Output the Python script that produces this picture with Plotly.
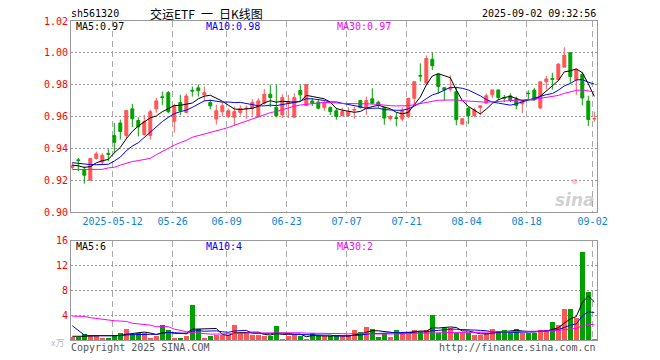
import math
import pandas as pd
import plotly.graph_objects as go

# ---------------- data ----------------
holidays = ["2025-05-01", "2025-05-02", "2025-05-05", "2025-06-02"]
dates = [d.strftime("%Y-%m-%d") for d in pd.bdate_range("2025-04-28", "2025-09-02")
         if d.strftime("%Y-%m-%d") not in holidays]

open_ = [0.928, 0.9328, 0.9267, 0.920, 0.9336, 0.9313, 0.9368, 0.948, 0.9559, 0.9481,
         0.9648, 0.9575, 0.9486, 0.948, 0.9648, 0.9724, 0.975, 0.957, 0.9688, 0.9625,
         0.9765, 0.978, 0.9736, 0.9688, 0.9584, 0.963, 0.960, 0.9596, 0.9625, 0.9648,
         0.9652, 0.960, 0.9684, 0.974, 0.9656, 0.961, 0.9686, 0.9596, 0.9763, 0.9669,
         0.9698, 0.969, 0.9656, 0.9656, 0.9636, 0.9606, 0.9606, 0.9640, 0.970, 0.9652,
         0.9711, 0.969, 0.9656, 0.9586, 0.9592, 0.9584, 0.960, 0.9715, 0.9858, 0.9809,
         0.996, 0.9865, 0.9781, 0.9772, 0.9756, 0.9552, 0.9652, 0.9606, 0.9656, 0.9684,
         0.9736, 0.9767, 0.9719, 0.973, 0.971, 0.968, 0.9747, 0.9766, 0.9654, 0.9818,
         0.9838, 0.9832, 0.991, 1.000, 0.9829, 0.9865, 0.9697, 0.9584]
high = [0.931, 0.934, 0.9287, 0.934, 0.938, 0.937, 0.9396, 0.956, 0.958, 0.9638,
        0.968, 0.9596, 0.9609, 0.9642, 0.9717, 0.9756, 0.976, 0.968, 0.9736, 0.9744,
        0.9788, 0.980, 0.9788, 0.9706, 0.9675, 0.969, 0.965, 0.9663, 0.967, 0.967,
        0.971, 0.9715, 0.9772, 0.980, 0.980, 0.974, 0.9736, 0.9745, 0.980, 0.980,
        0.9715, 0.971, 0.970, 0.9663, 0.9655, 0.9655, 0.9658, 0.966, 0.9705, 0.9725,
        0.9777, 0.970, 0.966, 0.961, 0.9623, 0.9656, 0.9715, 0.9819, 0.9934, 0.9984,
        1.0003, 0.987, 0.9785, 0.986, 0.9787, 0.9586, 0.966, 0.9655, 0.9667, 0.9745,
        0.9767, 0.9767, 0.9735, 0.9745, 0.9725, 0.970, 0.9765, 0.978, 0.9818, 0.9855,
        0.9875, 0.9935, 1.0035, 1.0005, 0.9896, 0.988, 0.973, 0.963]
low = [0.927, 0.9256, 0.9178, 0.9197, 0.933, 0.930, 0.9319, 0.937, 0.9455, 0.946,
       0.9534, 0.9475, 0.948, 0.9455, 0.9623, 0.9673, 0.962, 0.950, 0.961, 0.962,
       0.9725, 0.9725, 0.9695, 0.9645, 0.955, 0.960, 0.959, 0.954, 0.9605, 0.9585,
       0.9605, 0.9595, 0.9675, 0.966, 0.9596, 0.959, 0.959, 0.959, 0.970, 0.9665,
       0.9665, 0.9645, 0.9635, 0.961, 0.958, 0.960, 0.9605, 0.9586, 0.965, 0.961,
       0.9675, 0.9655, 0.9548, 0.9575, 0.9538, 0.957, 0.959, 0.9675, 0.9819, 0.9809,
       0.9892, 0.9743, 0.9698, 0.9756, 0.9545, 0.955, 0.9552, 0.9595, 0.961, 0.9677,
       0.9715, 0.9705, 0.969, 0.969, 0.9645, 0.962, 0.9707, 0.970, 0.9645, 0.977,
       0.977, 0.9825, 0.991, 0.981, 0.9735, 0.967, 0.954, 0.9567]
close = [0.929, 0.9323, 0.9231, 0.9336, 0.9365, 0.9356, 0.9363, 0.9438, 0.9506, 0.9638,
         0.9586, 0.9534, 0.9569, 0.963, 0.9698, 0.9719, 0.963, 0.9667, 0.9637, 0.9729,
         0.976, 0.9762, 0.975, 0.9667, 0.9636, 0.9667, 0.9636, 0.9631, 0.965, 0.9652,
         0.9688, 0.9698, 0.974, 0.9719, 0.9604, 0.9719, 0.969, 0.9719, 0.9736, 0.980,
         0.9684, 0.9652, 0.9684, 0.9631, 0.960, 0.9631, 0.9627, 0.9644, 0.9656, 0.970,
         0.9684, 0.9669, 0.959, 0.960, 0.9588, 0.9636, 0.9715, 0.9819, 0.9854, 0.9965,
         0.9919, 0.9788, 0.9767, 0.978, 0.958, 0.9586, 0.9606, 0.9642, 0.9667, 0.973,
         0.9767, 0.9719, 0.9715, 0.970, 0.967, 0.9697, 0.9744, 0.9709, 0.9818, 0.9836,
         0.9834, 0.9929, 0.9985, 0.9851, 0.9896, 0.9716, 0.9581, 0.9587]
volume = [0.5, 0.5, 1.0, 0.8, 0.8, 0.4, 0.4, 0.8, 1.2, 1.8,
          1.0, 1.2, 1.2, 0.4, 0.6, 2.4, 1.6, 0.4, 0.4, 0.7,
          5.6, 1.7, 0.4, 0.7, 0.85, 0.85, 0.85, 2.4, 1.1, 1.1,
          0.85, 0.85, 0.6, 0.6, 2.3, 0.2, 0.7, 0.85, 0.7, 0.2,
          1.1, 0.6, 0.6, 0.65, 0.65, 0.6, 0.6, 1.65, 1.3, 2.1,
          1.8, 0.55, 1.05, 0.55, 1.65, 1.3, 1.3, 1.65, 1.3, 1.6,
          4.0, 1.1, 1.9, 1.9, 1.2, 1.2, 1.1, 0.75, 0.75, 1.1,
          1.8, 1.5, 1.65, 1.1, 1.8, 1.2, 1.2, 1.2, 1.65, 1.65,
          2.9, 2.4, 5.0, 5.0, 3.6, 14.1, 7.8, 0.2]

# moving-average values at the start of the window
ma5_head = [0.9295, 0.929, 0.928, 0.9285]
ma10_head = [0.931, 0.9305, 0.930, 0.9298, 0.9297, 0.9298, 0.930, 0.932, 0.9345]
ma30_head = [0.9267, 0.9267, 0.9267, 0.9267, 0.9267, 0.9268, 0.9277, 0.9281, 0.9295, 0.9306,
             0.9317, 0.9323, 0.933, 0.9337, 0.936, 0.938, 0.9405, 0.942, 0.9436, 0.945,
             0.947, 0.948, 0.949, 0.950, 0.9506, 0.952, 0.9531, 0.9544, 0.9556]
vma5_head = [0.6, 0.55, 0.6, 0.65]
vma10_head = [2.3, 1.6, 0.8, 0.7, 0.7, 0.65, 0.65, 0.65, 0.7]
vma30_head = [3.85, 3.85, 3.8, 3.6, 3.45, 3.4, 3.2, 3.1, 3.05, 3.0,
              2.7, 2.6, 2.55, 2.4, 2.15, 2.2, 2.15, 1.75, 1.5, 1.35,
              1.2, 1.1, 0.95, 0.95, 0.95, 0.95, 0.95, 1.0, 1.05]

tick_dates = ["2025-05-12", "2025-05-26", "2025-06-09", "2025-06-23", "2025-07-07",
              "2025-07-21", "2025-08-04", "2025-08-18", "2025-09-02"]
tick_text = ["2025-05-12", "05-26", "06-09", "06-23", "07-07", "07-21", "08-04", "08-18", "09-02"]
price_ticks = [0.90, 0.92, 0.94, 0.96, 0.98, 1.00, 1.02]
vol_ticks = [4, 8, 12, 16]

# ---------------- derived ----------------
n = len(dates)
idx = list(range(n))


def ma(values, window, head):
    s = pd.Series(values, dtype=float).rolling(window).mean()
    s.iloc[:len(head)] = head
    return s.tolist()


ma5 = ma(close, 5, ma5_head)
ma10 = ma(close, 10, ma10_head)
ma30 = ma(close, 30, ma30_head)
vma5 = ma(volume, 5, vma5_head)
vma10 = ma(volume, 10, vma10_head)
vma30 = ma(volume, 30, vma30_head)

RED = "#ff5555"
GREEN = "#00a000"
FONT = "DejaVu Sans Mono"
bar_colors = [RED if c > o else GREEN for o, c in zip(open_, close)]

W, H = 660, 360
L, R, T, B = 71, 63, 21, 20
PW, PH = W - L - R, H - T - B


def px(x):
    return (x - L) / PW


def py(y):
    return (H - B - y) / PH


fig = go.Figure()
fig.add_trace(go.Candlestick(
    x=idx, open=open_, high=high, low=low, close=close,
    increasing=dict(line=dict(color=RED, width=1), fillcolor=RED),
    decreasing=dict(line=dict(color=GREEN, width=1), fillcolor=GREEN),
    whiskerwidth=0, xaxis="x", yaxis="y", showlegend=False, hoverinfo="skip"))
for vals, col in [(ma5, "#000000"), (ma10, "#0000ff"), (ma30, "#ff00ff")]:
    fig.add_trace(go.Scatter(x=idx, y=vals, mode="lines", line=dict(color=col, width=1),
                             xaxis="x", yaxis="y", showlegend=False, hoverinfo="skip"))

fig.add_trace(go.Bar(x=idx, y=volume, marker=dict(color=bar_colors, line=dict(width=0)),
                     width=0.78, xaxis="x2", yaxis="y2", showlegend=False, hoverinfo="skip"))
for vals, col in [(vma5, "#000000"), (vma10, "#0000ff"), (vma30, "#ff00ff")]:
    fig.add_trace(go.Scatter(x=idx, y=vals, mode="lines", line=dict(color=col, width=1),
                             xaxis="x2", yaxis="y2", showlegend=False, hoverinfo="skip"))

xr = [(L - 72.3) / 6, (W - R - 72.3) / 6]
tickvals = [dates.index(d) - 0.28 for d in tick_dates]
common_x = dict(range=xr, tickmode="array", tickvals=tickvals, showgrid=True,
                gridcolor="#aaaaaa", griddash="6px,4px", gridwidth=1, zeroline=False,
                showline=True, linecolor="#999999", linewidth=1, mirror=True, ticks="",
                fixedrange=True)
common_y = dict(showgrid=True, gridcolor="#999999", griddash="2px,2px", gridwidth=1,
                zeroline=False, showline=True, linecolor="#999999", linewidth=1,
                mirror=True, ticks="", fixedrange=True,
                tickfont=dict(family=FONT, size=10, color="#ff0000"))

main_bottom = py(212)
vol_top = py(240.7)

fig.update_layout(
    width=W, height=H, margin=dict(l=L, r=R, t=T, b=B),
    paper_bgcolor="white", plot_bgcolor="white",
    font=dict(family=FONT, size=10, color="#000000"),
    xaxis=dict(**common_x, domain=[0, 1], anchor="y", ticktext=tick_text,
               tickfont=dict(family=FONT, size=10, color="#0a84d6"),
               rangeslider=dict(visible=False)),
    yaxis=dict(**common_y, domain=[main_bottom, 1], anchor="x", range=[0.90, 1.02],
               tickmode="array", tickvals=price_ticks,
               ticktext=[f"{v:.2f}" for v in price_ticks]),
    xaxis2=dict(**common_x, domain=[0, 1], anchor="y2", showticklabels=False, matches="x"),
    yaxis2=dict(**common_y, domain=[0, vol_top], anchor="x2", range=[0, 16],
                tickmode="array", tickvals=vol_ticks, ticktext=[str(v) for v in vol_ticks]),
    bargap=0, hovermode=False,
)


def trunc2(v):
    return f"{math.floor(v * 100) / 100:.2f}"


ann = []


def text(x, y, s, color="#000000", size=10, anchor="left", family=FONT, **kw):
    ann.append(dict(x=px(x), y=py(y), xref="paper", yref="paper", text=s, showarrow=False,
                    xanchor=anchor, yanchor="middle",
                    font=dict(family=family, size=size, color=color), **kw))


text(69, 13, "sh561320")
text(148, 13, "交运ETF\u2002一\u2002日K线图", size=12, family="Noto Sans CJK SC, " + FONT)
text(598, 13, "2025-09-02 09:32:56", anchor="right")
text(74, 27, f"MA5:{trunc2(ma5[-1])}")
text(204, 27, f"MA10:{trunc2(ma10[-1])}", color="#0000ff")
text(335, 27, f"MA30:{trunc2(ma30[-1])}", color="#ff00ff")
text(74, 247, f"MA5:{int(vma5[-1])}")
text(204, 247, f"MA10:{int(vma10[-1])}", color="#0000ff")
text(335, 247, f"MA30:{int(vma30[-1])}", color="#ff00ff")
text(69, 347, "Copyright 2025 SINA.COM", color="#555555")
text(598, 347, "http://finance.sina.com.cn", color="#555555", anchor="right")
text(66, 342, "x万", color="#bbbbbb", size=9, anchor="right", family="Noto Sans CJK SC")
text(597, 200, "<b><i>sina</i></b>", color="rgba(150,150,150,0.45)", size=17,
     anchor="right", family="DejaVu Sans")
text(575, 181, "●", color="rgba(255,90,90,0.35)", size=9, anchor="center")
fig.update_layout(annotations=ann)

fig.write_html("out.html", config={"displayModeBar": False, "staticPlot": True},
               post_script="document.body.style.margin='0px';")
